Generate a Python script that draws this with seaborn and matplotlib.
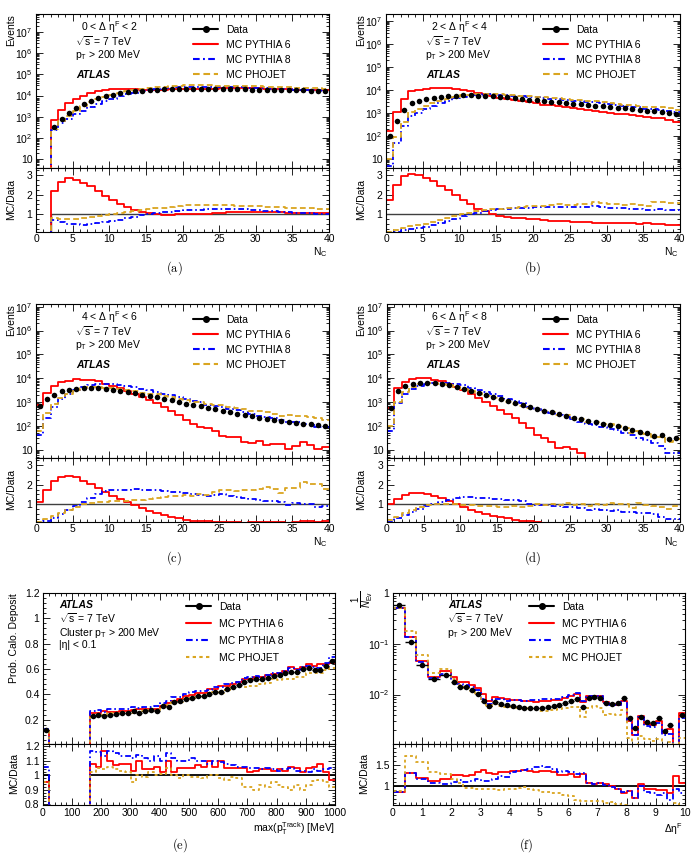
import numpy as np
import matplotlib
matplotlib.use("Agg")
import matplotlib.pyplot as plt
import seaborn as sns
from matplotlib.lines import Line2D
from matplotlib.ticker import FixedLocator, FuncFormatter, NullFormatter

# ---------------- data ----------------
nc_edges = list(range(41))

a_data = [0, 0, 320, 800, 1480, 2550, 3800, 5600, 7300, 9000,
          11000, 12800, 14500, 15800, 17000, 18000, 19000, 19500, 20000, 20500,
          20500, 20500, 20500, 20500, 20000, 20000, 19800, 19500, 19500, 19000,
          19000, 18500, 18500, 18000, 18000, 17500, 17500, 17000, 17000, 16500]
a_r_py6 = [0, 0, 2.2, 2.65, 2.85, 2.75, 2.6, 2.45, 2.2, 1.95,
           1.75, 1.5, 1.35, 1.22, 1.12, 1.05, 1.0, 0.98, 0.98, 0.99,
           1.0, 1.0, 1.02, 1.03, 1.05, 1.07, 1.1, 1.12, 1.12, 1.13,
           1.13, 1.12, 1.1, 1.1, 1.08, 1.08, 1.07, 1.06, 1.05, 1.05]
a_r_py8 = [0, 0, 0.7, 0.6, 0.52, 0.5, 0.48, 0.5, 0.55, 0.6,
           0.65, 0.72, 0.8, 0.87, 0.94, 1.0, 1.05, 1.1, 1.13, 1.17,
           1.2, 1.22, 1.24, 1.26, 1.27, 1.28, 1.28, 1.27, 1.25, 1.22,
           1.2, 1.18, 1.15, 1.12, 1.1, 1.08, 1.07, 1.05, 1.03, 1.02]
a_r_pho = [0, 0, 0.8, 0.78, 0.75, 0.76, 0.8, 0.85, 0.9, 0.95,
           1.0, 1.05, 1.1, 1.17, 1.22, 1.27, 1.3, 1.34, 1.38, 1.42,
           1.45, 1.47, 1.48, 1.48, 1.47, 1.46, 1.45, 1.44, 1.43, 1.42,
           1.4, 1.38, 1.36, 1.35, 1.33, 1.32, 1.3, 1.3, 1.28, 1.27]

b_data = [95, 450, 1300, 2800, 3400, 4000, 4500, 4900, 5200, 5500,
          5700, 5750, 5600, 5500, 5250, 5000, 4700, 4350, 4100, 3800,
          3550, 3300, 3100, 2900, 2700, 2500, 2350, 2200, 2050, 1900,
          1780, 1660, 1550, 1450, 1350, 1260, 1170, 1100, 1000, 870]
b_r_py6 = [1.7, 2.5, 2.95, 3.05, 3.0, 2.85, 2.7, 2.45, 2.25, 2.0,
           1.75, 1.5, 1.27, 1.15, 1.02, 0.93, 0.88, 0.83, 0.8, 0.77,
           0.74, 0.7, 0.68, 0.66, 0.64, 0.62, 0.6, 0.6, 0.58, 0.58,
           0.57, 0.56, 0.55, 0.55, 0.53, 0.54, 0.52, 0.52, 0.48, 0.45]
b_r_py8 = [0.05, 0.11, 0.2, 0.25, 0.3, 0.37, 0.45, 0.55, 0.65, 0.78,
           0.9, 1.0, 1.08, 1.15, 1.2, 1.25, 1.28, 1.3, 1.32, 1.33,
           1.35, 1.35, 1.35, 1.36, 1.35, 1.35, 1.36, 1.37, 1.4, 1.35,
           1.33, 1.3, 1.3, 1.28, 1.27, 1.2, 1.22, 1.25, 1.2, 1.2]
b_r_pho = [0.1, 0.2, 0.3, 0.38, 0.45, 0.52, 0.6, 0.7, 0.8, 0.9,
           1.0, 1.08, 1.15, 1.2, 1.25, 1.28, 1.3, 1.33, 1.38, 1.4,
           1.4, 1.42, 1.45, 1.5, 1.45, 1.48, 1.5, 1.52, 1.6, 1.55,
           1.5, 1.5, 1.48, 1.5, 1.45, 1.42, 1.6, 1.6, 1.55, 1.58]

c_data = [660, 1380, 2050, 2800, 3250, 3700, 3950, 4050, 3950, 3550,
          3250, 3000, 2700, 2350, 2050, 1800, 1600, 1350, 1180, 1000,
          870, 740, 660, 550, 490, 430, 370, 330, 290, 250,
          225, 200, 182, 166, 151, 135, 123, 115, 107, 98]
c_r_py6 = [1.1, 1.75, 2.2, 2.4, 2.45, 2.4, 2.2, 2.05, 1.85, 1.6,
           1.4, 1.25, 1.1, 0.95, 0.8, 0.65, 0.55, 0.45, 0.35, 0.28,
           0.2, 0.16, 0.14, 0.15, 0.12, 0.09, 0.09, 0.1, 0.07, 0.08,
           0.1, 0.08, 0.1, 0.1, 0.07, 0.11, 0.17, 0.14, 0.1, 0.13]
c_r_py8 = [0.06, 0.15, 0.3, 0.5, 0.7, 0.9, 1.1, 1.3, 1.5, 1.65,
           1.7, 1.72, 1.75, 1.78, 1.75, 1.72, 1.7, 1.65, 1.6, 1.6,
           1.55, 1.5, 1.48, 1.4, 1.45, 1.5, 1.4, 1.35, 1.3, 1.25,
           1.2, 1.18, 1.15, 1.1, 0.95, 1.05, 1.0, 1.0, 0.85, 0.9]
c_r_pho = [0.09, 0.25, 0.4, 0.55, 0.7, 0.85, 1.0, 1.05, 1.1, 1.1,
           1.15, 1.15, 1.18, 1.2, 1.22, 1.25, 1.3, 1.35, 1.4, 1.4,
           1.45, 1.42, 1.5, 1.45, 1.6, 1.75, 1.7, 1.65, 1.7, 1.75,
           1.8, 1.9, 1.8, 1.55, 1.85, 1.85, 2.15, 2.05, 2.05, 1.8]

d_data = [550, 3000, 4700, 5900, 6500, 6500, 6300, 5900, 5100, 4400,
          3700, 3000, 2500, 2050, 1700, 1380, 1150, 930, 780, 630,
          525, 430, 365, 310, 263, 224, 190, 160, 141, 123,
          110, 95, 81, 66, 56, 48, 38, 41, 28, 30]
d_r_py6 = [1.0, 1.25, 1.45, 1.55, 1.55, 1.5, 1.4, 1.3, 1.15, 1.0,
           0.85, 0.7, 0.6, 0.5, 0.42, 0.35, 0.28, 0.22, 0.17, 0.13,
           0.08, 0.07, 0.06, 0.04, 0.05, 0.05, 0.04, 0.01, 0.01, 0.01,
           0.01, 0.01, 0.01, 0.01, 0.01, 0.01, 0.01, 0.01, 0.01, 0.01]
d_r_py8 = [0.11, 0.3, 0.45, 0.6, 0.75, 0.9, 1.0, 1.1, 1.22, 1.3,
           1.38, 1.35, 1.3, 1.3, 1.28, 1.25, 1.2, 1.2, 1.15, 1.0,
           0.98, 0.95, 0.92, 0.9, 0.88, 0.85, 0.8, 0.72, 0.75, 0.7,
           0.65, 0.7, 0.6, 0.6, 0.55, 0.55, 0.5, 0.35, 0.25, 0.25]
d_r_pho = [0.18, 0.35, 0.55, 0.7, 0.85, 0.95, 1.0, 1.0, 1.0, 1.0,
           0.98, 0.95, 0.92, 0.9, 0.9, 0.88, 0.88, 0.9, 0.88, 0.92,
           1.0, 0.98, 1.0, 0.95, 1.05, 0.95, 1.0, 0.92, 1.0, 0.95,
           1.05, 1.02, 1.0, 0.8, 1.05, 0.95, 0.9, 0.85, 0.75, 0.9]

# (e) probability of calorimeter deposit vs max track pT, 20 MeV bins
e_edges = list(range(0, 1001, 20))
e_data = [0.12, 0, 0, 0, 0, 0, 0, 0,
          0.232, 0.235, 0.23, 0.24, 0.245, 0.25, 0.25, 0.27, 0.255, 0.27,
          0.275, 0.27, 0.305, 0.30, 0.34, 0.345, 0.365, 0.375, 0.385, 0.39,
          0.40, 0.415, 0.42, 0.445, 0.46, 0.47, 0.50, 0.51, 0.52, 0.52,
          0.53, 0.545, 0.55, 0.565, 0.58, 0.575, 0.60, 0.61, 0.59, 0.59,
          0.625, 0.665]
e_r_py6 = [0.95, 0, 0, 0, 0, 0, 0, 0,
           1.08, 1.06, 1.17, 1.10, 1.07, 1.08, 1.08, 1.03, 1.10, 1.04,
           1.04, 1.06, 1.02, 1.10, 1.02, 1.05, 1.05, 1.05, 1.07, 1.06,
           1.10, 1.06, 1.10, 1.05, 1.05, 1.05, 1.05, 1.02, 1.03, 1.04,
           1.04, 1.03, 1.04, 1.03, 1.06, 1.05, 1.02, 1.05, 1.06, 1.08,
           1.02, 0.97]
e_r_py8 = [1.06, 0, 0, 0, 0, 0, 0, 0,
           1.17, 1.16, 1.13, 1.17, 1.15, 1.13, 1.13, 1.12, 1.14, 1.12,
           1.10, 1.13, 1.10, 1.15, 1.12, 1.10, 1.10, 1.12, 1.10, 1.10,
           1.08, 1.10, 1.09, 1.08, 1.07, 1.06, 1.06, 1.05, 1.05, 1.04,
           1.05, 1.04, 1.03, 1.04, 1.05, 1.03, 1.03, 1.02, 1.04, 1.03,
           1.04, 1.05]
e_r_pho = [0.95, 0, 0, 0, 0, 0, 0, 0,
           1.02, 1.05, 1.04, 1.06, 1.04, 1.03, 1.02, 0.95, 1.00, 0.99,
           1.02, 1.00, 1.01, 1.05, 1.00, 0.98, 1.00, 0.99, 0.99, 0.98,
           1.00, 1.00, 0.98, 0.97, 0.99, 0.98, 0.92, 0.92, 0.90, 0.93,
           0.92, 0.95, 0.93, 0.92, 0.90, 0.93, 0.90, 0.93, 0.96, 0.97,
           0.95, 0.92]

# (f) forward rapidity gap distribution: 0.4 bins below 2, 0.2 bins above
f_edges = [0.0, 0.4, 0.8, 1.2, 1.6] + [round(2.0 + 0.2 * i, 1) for i in range(41)]
f_data = [0.59, 0.107, 0.038, 0.020, 0.0245,
          0.0173, 0.0142, 0.014, 0.0124, 0.0103, 0.0075, 0.0058, 0.0070, 0.0065, 0.0061,
          0.0059, 0.0057, 0.0055, 0.0055, 0.0054, 0.0054, 0.0056, 0.0058, 0.0062, 0.0067,
          0.0073, 0.0083, 0.0056, 0.0085, 0.0089, 0.0085, 0.0067, 0.0064, 0.0067, 0.0087,
          0.0034, 0.0022, 0.0036, 0.0028, 0.0027, 0.0034, 0.0019, 0.0025, 0.0008, 0.0040]
f_r_py6 = [0.86, 1.3, 1.2, 1.13, 1.17,
           1.27, 1.25, 1.24, 1.27, 1.32, 1.37, 1.3, 1.29, 1.32, 1.34,
           1.35, 1.36, 1.38, 1.36, 1.34, 1.36, 1.35, 1.33, 1.27, 1.25,
           1.28, 1.21, 1.29, 1.08, 1.06, 1.08, 1.04, 1.0, 0.94, 0.84,
           0.88, 0.71, 1.04, 0.92, 0.92, 0.9, 0.9, 0.84, 1.24, 1.08]
f_r_py8 = [0.86, 1.3, 1.17, 1.08, 1.06,
           1.1, 1.14, 1.1, 1.12, 1.17, 1.11, 1.12, 1.16, 1.24, 1.22,
           1.32, 1.36, 1.37, 1.4, 1.44, 1.48, 1.46, 1.4, 1.34, 1.36,
           1.32, 1.28, 1.3, 1.08, 1.06, 1.08, 1.03, 0.98, 0.92, 0.87,
           0.88, 0.72, 1.0, 0.86, 0.84, 0.8, 0.83, 0.67, 0.92, 0.84]
f_r_pho = [0.88, 1.7, 1.56, 1.32, 1.29,
           1.17, 1.08, 0.96, 0.96, 0.94, 0.94, 0.94, 0.92, 0.9, 0.92,
           0.94, 0.96, 0.98, 0.94, 0.9, 0.86, 0.86, 0.84, 0.83, 0.8,
           0.76, 0.68, 0.64, 0.64, 0.66, 0.64, 0.6, 0.63, 0.59, 0.56,
           0.4, 0.45, 0.42, 0.48, 0.45, 0.38, 0.5, 0.45, 0.6, 0.35]

series_labels = ["Data", "MC PYTHIA 6", "MC PYTHIA 8", "MC PHOJET"]
gap_ranges = ["0 < \u0394 \u03b7$^{\\rm F}$ < 2", "2 < \u0394 \u03b7$^{\\rm F}$ < 4",
              "4 < \u0394 \u03b7$^{\\rm F}$ < 6", "6 < \u0394 \u03b7$^{\\rm F}$ < 8"]

# ---------------- style ----------------
sns.set_theme(style="ticks")
plt.rcParams["font.family"] = ["Liberation Sans", "DejaVu Sans"]
plt.rcParams.update({
    "mathtext.fontset": "custom",
    "mathtext.rm": "Liberation Sans",
    "mathtext.it": "Liberation Sans:italic",
    "mathtext.bf": "Liberation Sans:bold",
    "mathtext.sf": "Liberation Sans",
    "text.color": "black", "axes.labelcolor": "black", "axes.edgecolor": "black",
    "xtick.color": "black", "ytick.color": "black", "axes.linewidth": 0.8,
})

RED, BLUE, GOLD = "#ff0000", "#0000ff", "#daa520"
LW = 1.3
DASHDOT = (0, (3.2, 1.6, 0.9, 1.6))
GOLD_LONG = (0, (3.2, 1.8))
GOLD_SHORT = (0, (1.6, 1.6))
FS = 7.5

W, H = 697, 858
fig = plt.figure(figsize=(W / 100, H / 100), dpi=100)


def px_axes(x0, x1, y0, y1):
    return fig.add_axes([x0 / W, 1 - y1 / H, (x1 - x0) / W, (y1 - y0) / H])


def ftext(x, y, s, **kw):
    kw.setdefault("fontsize", FS)
    kw.setdefault("va", "center")
    return fig.text(x / W, 1 - y / H, s, **kw)


def style_ticks(ax):
    ax.tick_params(axis="both", which="both", direction="in", top=True, right=True,
                   labelsize=FS, width=0.6, pad=2.5)
    ax.tick_params(axis="x", which="both", pad=1.8)
    ax.tick_params(which="major", length=5)
    ax.tick_params(which="minor", length=2.5)
    for s in ax.spines.values():
        s.set_linewidth(0.8)


def logfmt(v, pos):
    e = int(round(np.log10(v)))
    if e == 0:
        return "1"
    if e == 1:
        return "10"
    return r"$10^{%d}$" % e


def log_ticks(ax, lo, hi):
    """Place decade ticks and 2..9 minor ticks only inside the visible range."""
    ax.set_yscale("log")
    ax.set_ylim(lo, hi)
    kmin, kmax = int(np.floor(np.log10(lo))), int(np.ceil(np.log10(hi)))
    major = [10.0 ** k for k in range(kmin, kmax + 1) if lo <= 10.0 ** k <= hi]
    minor = [m * 10.0 ** k for k in range(kmin, kmax + 1) for m in range(2, 10)
             if lo <= m * 10.0 ** k <= hi]
    ax.yaxis.set_major_locator(FixedLocator(major))
    ax.yaxis.set_minor_locator(FixedLocator(minor))
    ax.yaxis.set_major_formatter(FuncFormatter(logfmt))
    ax.yaxis.set_minor_formatter(NullFormatter())


def lin_ticks(axis, lo, hi, step, minor_step):
    n0, n1 = int(np.ceil(lo / step - 1e-9)), int(np.floor(hi / step + 1e-9))
    axis.set_major_locator(FixedLocator([round(k * step, 6) for k in range(n0, n1 + 1)]))
    m0, m1 = int(np.ceil(lo / minor_step - 1e-9)), int(np.floor(hi / minor_step + 1e-9))
    axis.set_minor_locator(FixedLocator([round(k * minor_step, 6) for k in range(m0, m1 + 1)]))
    axis.set_major_formatter(FuncFormatter(lambda v, p: "%g" % round(v, 4)))


def hstep(ax, centers, weights, edges, color, ls, lw):
    sns.histplot(x=list(centers), weights=list(weights), bins=list(edges), element="step",
                 fill=False, color=color, linestyle=ls, linewidth=lw, ax=ax)


def draw_panel(ax_m, ax_r, edges, data, r6, r8, rph, gold_ls, ref_color, ref_lw, xerr):
    edges = np.asarray(edges, float)
    centers = 0.5 * (edges[:-1] + edges[1:])
    halfw = 0.5 * (edges[1:] - edges[:-1])
    data = np.asarray(data, float)
    series = [(np.asarray(r6, float), RED, "-"), (np.asarray(r8, float), BLUE, DASHDOT),
              (np.asarray(rph, float), GOLD, gold_ls)]
    for r, c, ls in series:
        hstep(ax_m, centers, data * r, edges, c, ls, LW)
    ok = data > 0
    if xerr:
        ax_m.errorbar(centers[ok], data[ok], xerr=halfw[ok], fmt="none", ecolor="black",
                      elinewidth=1.0, zorder=4)
    sns.scatterplot(x=centers[ok], y=data[ok], color="black", s=16, linewidth=0,
                    ax=ax_m, zorder=5, legend=False)
    ref = np.where(ok, 1.0, 0.0)
    hstep(ax_r, centers, ref, edges, ref_color, "-", ref_lw)
    for r, c, ls in series:
        hstep(ax_r, centers, r, edges, c, ls, LW)
    for ax in (ax_m, ax_r):
        ax.set_xlabel("")
        ax.set_ylabel("")
        ax.set_xlim(edges[0], edges[-1])
        style_ticks(ax)
    ax_m.tick_params(labelbottom=False)


def legend(ax, x, ytop, gold_ls, spacing):
    handles = [Line2D([], [], color="black", lw=1.5, marker="o", ms=4),
               Line2D([], [], color=RED, lw=1.5),
               Line2D([], [], color=BLUE, lw=1.5, linestyle=DASHDOT),
               Line2D([], [], color=GOLD, lw=1.5, linestyle=gold_ls)]
    ax.legend(handles, series_labels, loc="upper left", bbox_to_anchor=(x / W, 1 - ytop / H),
              bbox_transform=fig.transFigure, frameon=False, fontsize=FS, borderpad=0,
              borderaxespad=0, handlelength=2.4, handletextpad=0.75, labelspacing=spacing)


# ---------------- panels (a)-(d) ----------------
nc_sets = [(a_data, a_r_py6, a_r_py8, a_r_pho, (3.8, 7e7)),
           (b_data, b_r_py6, b_r_py8, b_r_pho, (4.0, 2e7)),
           (c_data, c_r_py6, c_r_py8, c_r_pho, (4.5, 1.3e7)),
           (d_data, d_r_py6, d_r_py8, d_r_pho, (4.5, 1.3e7))]
geo = [(36, 329, 0, 0), (386, 680, 350, 0), (36, 329, 0, 290), (387, 680, 350, 290)]
captions_pos = [(174, 268), (533, 268), (174, 558), (533, 558)]
for i, ((dat, r6, r8, rph, ylim), (x0, x1, dx, dy)) in enumerate(zip(nc_sets, geo)):
    ax_m = px_axes(x0, x1, 14 + dy, 168 + dy)
    ax_r = px_axes(x0, x1, 168 + dy, 232 + dy)
    draw_panel(ax_m, ax_r, nc_edges, dat, r6, r8, rph, GOLD_LONG, "#404040", 1.0, False)
    log_ticks(ax_m, *ylim)
    for ax in (ax_m, ax_r):
        lin_ticks(ax.xaxis, 0, 40, 5, 1)
    ax_r.set_ylim(0.1, 3.35)
    lin_ticks(ax_r.yaxis, 0.1, 3.35, 1, 0.25)
    legend(ax_m, 193 + dx, 25 + dy, GOLD_LONG, 0.48)
    ftext(81 + dx, 27 + dy, gap_ranges[i])
    ftext(75 + dx, 41 + dy, r"$\sqrt{\rm s}$ = 7 TeV")
    ftext(75 + dx, 55 + dy, r"p$_{\rm T}$ > 200 MeV")
    ftext(76 + dx, 75 + dy, "ATLAS", fontweight="bold", fontstyle="italic")
    ftext(11 + dx, 14 + dy, "Events", rotation=90, ha="center", va="top")
    ftext(11 + dx, 200 + dy, "MC/Data", rotation=90, ha="center")
    ftext(x1 - 1, 252 + dy, r"N$_{\rm C}$", ha="right")
    cx, cy = captions_pos[i]
    ftext(cx, cy, r"$\mathrm{(%s)}$" % "abcd"[i], ha="center", fontsize=9, math_fontfamily="cm")

# ---------------- panel (e) ----------------
ax_m = px_axes(43, 335, 593, 744)
ax_r = px_axes(43, 335, 744, 805)
draw_panel(ax_m, ax_r, e_edges, e_data, e_r_py6, e_r_py8, e_r_pho, GOLD_SHORT, "black", 1.3, True)
ax_m.set_ylim(0.008, 1.2)
lin_ticks(ax_m.yaxis, 0.008, 1.2, 0.2, 0.04)
for ax in (ax_m, ax_r):
    lin_ticks(ax.xaxis, 0, 1000, 100, 20)
ax_r.set_ylim(0.795, 1.215)
lin_ticks(ax_r.yaxis, 0.795, 1.215, 0.1, 0.02)
legend(ax_m, 186, 602, GOLD_SHORT, 0.66)
ftext(59, 605, "ATLAS", fontweight="bold", fontstyle="italic")
ftext(59, 618, r"$\sqrt{\rm s}$ = 7 TeV")
ftext(59, 632.5, r"Cluster p$_{\rm T}$ > 200 MeV")
ftext(59, 645, "|\u03b7| < 0.1")
ftext(14, 593, "Prob. Calo. Deposit", rotation=90, ha="center", va="top")
ftext(14, 774, "MC/Data", rotation=90, ha="center")
ftext(335, 829, r"max(p$_{\rm T}^{\rm Track}$) [MeV]", ha="right")
ftext(180, 845, r"$\mathrm{(e)}$", ha="center", fontsize=9, math_fontfamily="cm")

# ---------------- panel (f) ----------------
ax_m = px_axes(393, 685, 593, 744)
ax_r = px_axes(393, 685, 744, 805)
draw_panel(ax_m, ax_r, f_edges, f_data, f_r_py6, f_r_py8, f_r_pho, GOLD_SHORT, "black", 1.3, True)
log_ticks(ax_m, 1.05e-3, 1.02)
for ax in (ax_m, ax_r):
    lin_ticks(ax.xaxis, 0, 10, 1, 0.2)
ax_r.set_ylim(0.555, 1.99)
lin_ticks(ax_r.yaxis, 0.555, 1.99, 0.5, 0.1)
legend(ax_m, 529, 602, GOLD_SHORT, 0.66)
ftext(448, 605, "ATLAS", fontweight="bold", fontstyle="italic")
ftext(447, 618, r"$\sqrt{\rm s}$ = 7 TeV")
ftext(447, 632.5, r"p$_{\rm T}$ > 200 MeV")
ftext(363, 591, r"$\frac{1}{N_{\rm Ev}}$", rotation=90, ha="center", va="top", fontsize=10)
ftext(364, 774, "MC/Data", rotation=90, ha="center")
ftext(683, 829, "\u0394\u03b7$^{\\rm F}$", ha="right")
ftext(526, 845, r"$\mathrm{(f)}$", ha="center", fontsize=9, math_fontfamily="cm")

fig.savefig("out.png", dpi=100)
